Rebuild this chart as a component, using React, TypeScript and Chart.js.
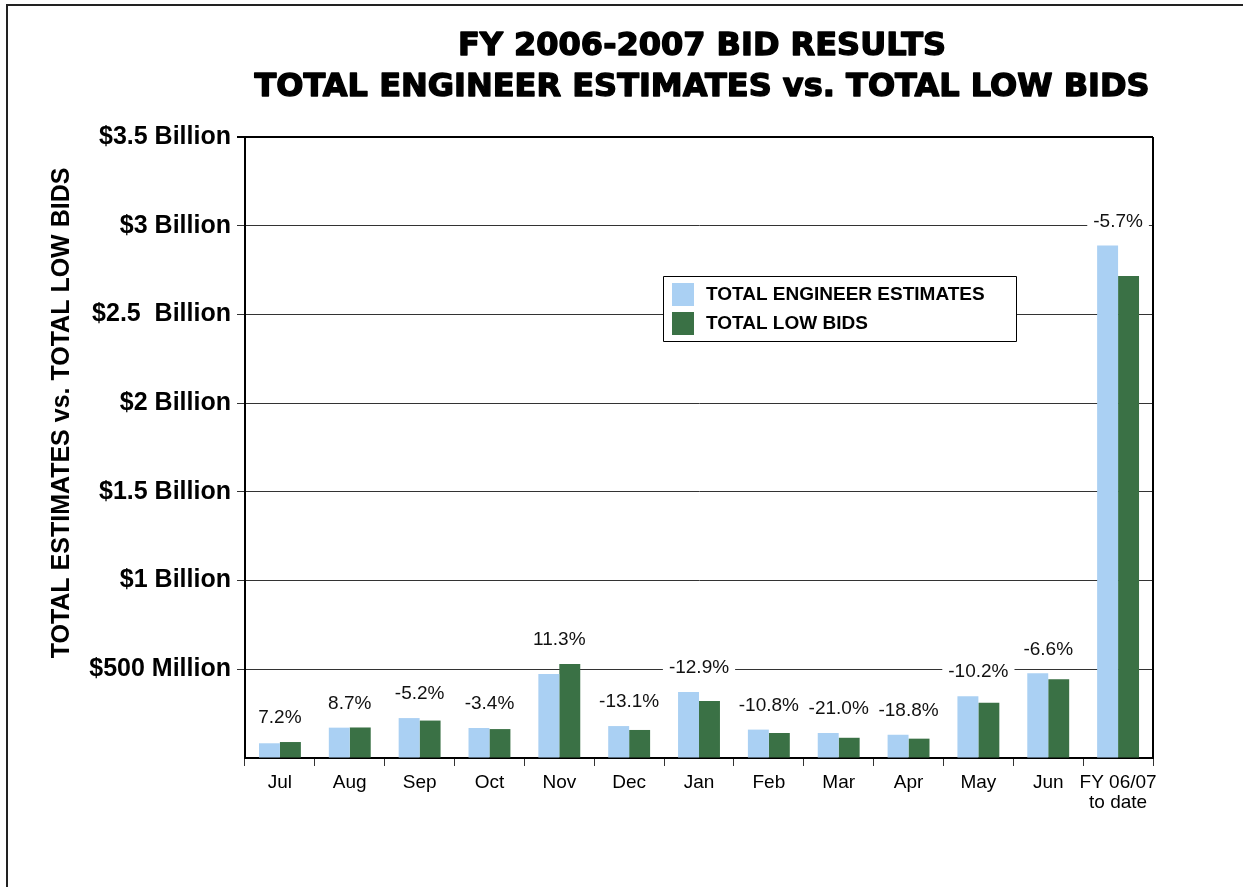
import React, { useEffect, useRef } from 'react';
import { Chart, registerables } from 'chart.js';

Chart.register(...registerables);

// ---- data ----
const categories: (string | string[])[] = ['Jul', 'Aug', 'Sep', 'Oct', 'Nov', 'Dec', 'Jan', 'Feb', 'Mar', 'Apr', 'May', 'Jun', ['FY 06/07', 'to date']];
// values in millions of dollars
const engineerEstimates = [83, 171, 225, 169, 473, 180, 372, 160, 141, 131, 348, 477, 2888];
const lowBids = [90, 172, 211, 163, 530, 158, 321, 141, 114, 109, 312, 444, 2716];
const percentDiff = [7.2, 8.7, -5.2, -3.4, 11.3, -13.1, -12.9, -10.8, -21.0, -18.8, -10.2, -6.6, -5.7];
const yTickLabels = ['', '$500 Million', '$1 Billion', '$1.5 Billion', '$2 Billion', '$2.5  Billion', '$3 Billion', '$3.5 Billion'];
const seriesNames = ['TOTAL ENGINEER ESTIMATES', 'TOTAL LOW BIDS'];
const titleLines = ['FY 2006-2007 BID RESULTS', 'TOTAL ENGINEER ESTIMATES vs. TOTAL LOW BIDS'];
const yAxisTitle = 'TOTAL ESTIMATES vs. TOTAL LOW BIDS';

const SANS = '"Liberation Sans", Arial, Helvetica, sans-serif';
const HEAVY = '"DejaVu Sans", "Liberation Sans", sans-serif';
const BLUE = '#aad0f3';
const GREEN = '#3a7145';

const framePlugin = {
  id: 'frame',
  beforeDraw(chart: any) {
    const { ctx, width, height } = chart;
    ctx.save();
    ctx.fillStyle = '#fff';
    ctx.fillRect(0, 0, width, height);
    ctx.strokeStyle = '#222';
    ctx.lineWidth = 2;
    ctx.beginPath();
    ctx.moveTo(7, height);
    ctx.lineTo(7, 5);
    ctx.lineTo(width, 5);
    ctx.stroke();
    ctx.restore();
  },
};

const decorPlugin = {
  id: 'decor',
  beforeDatasetsDraw(chart: any) {
    const { ctx, chartArea } = chart;
    ctx.save();
    ctx.strokeStyle = '#000';
    ctx.lineWidth = 2;
    ctx.beginPath();
    ctx.moveTo(chartArea.right, chartArea.top);
    ctx.lineTo(chartArea.right, chartArea.bottom);
    ctx.stroke();
    ctx.restore();
  },
  afterDatasetsDraw(chart: any) {
    const { ctx } = chart;
    const m0 = chart.getDatasetMeta(0);
    const m1 = chart.getDatasetMeta(1);
    ctx.save();
    ctx.font = `19px ${SANS}`;
    ctx.textAlign = 'center';
    ctx.textBaseline = 'middle';
    percentDiff.forEach((p, i) => {
      const b0 = m0.data[i];
      const b1 = m1.data[i];
      const x = (b0.x + b1.x) / 2;
      const top = Math.min(b0.y, b1.y);
      const y = top - 24;
      const text = p.toFixed(1) + '%';
      const w = ctx.measureText(text).width;
      ctx.fillStyle = '#fff';
      ctx.fillRect(x - w / 2 - 6, y - 10, w + 12, 20);
      ctx.fillStyle = '#111';
      ctx.fillText(text, x, y);
    });
    ctx.restore();
  },
  afterDraw(chart: any) {
    const { ctx, chartArea } = chart;
    ctx.save();
    // title
    ctx.fillStyle = '#000';
    ctx.strokeStyle = '#000';
    ctx.lineWidth = 1.4;
    ctx.lineJoin = 'round';
    ctx.textAlign = 'center';
    ctx.textBaseline = 'middle';
    ctx.font = `bold 32px ${HEAVY}`;
    const cx = (chartArea.left + chartArea.right) / 2 + 3;
    ctx.fillText(titleLines[0], cx, 47);
    ctx.strokeText(titleLines[0], cx, 47);
    ctx.fillText(titleLines[1], cx, 88);
    ctx.strokeText(titleLines[1], cx, 88);
    // y axis title
    ctx.save();
    ctx.translate(62, 413);
    ctx.rotate(-Math.PI / 2);
    ctx.font = `bold 25px ${SANS}`;
    ctx.fillText(yAxisTitle, 0, 0);
    ctx.restore();
    // legend
    const lx = 663, ly = 276, lw = 353, lh = 65;
    ctx.fillStyle = '#fff';
    ctx.fillRect(lx, ly, lw, lh);
    ctx.strokeStyle = '#000';
    ctx.lineWidth = 1;
    ctx.strokeRect(lx + 0.5, ly + 0.5, lw, lh);
    ctx.font = `bold 19px ${SANS}`;
    ctx.textAlign = 'left';
    chart.data.datasets.forEach((ds: any, i: number) => {
      const rowY = ly + 7 + i * 29;
      ctx.fillStyle = ds.backgroundColor;
      ctx.fillRect(lx + 9, rowY, 22, 23);
      ctx.fillStyle = '#000';
      ctx.fillText(ds.label, lx + 43, rowY + 12);
    });
    ctx.restore();
  },
};

export default function App() {
  const canvasRef = useRef<HTMLCanvasElement | null>(null);

  useEffect(() => {
    const canvas = canvasRef.current;
    if (!canvas) return;
    const chart = new Chart(canvas, {
      type: 'bar',
      data: {
        labels: categories as any,
        datasets: [
          {
            label: seriesNames[0],
            data: engineerEstimates,
            backgroundColor: BLUE,
            borderWidth: 0,
            categoryPercentage: 0.6,
            barPercentage: 1.0,
          },
          {
            label: seriesNames[1],
            data: lowBids,
            backgroundColor: GREEN,
            borderWidth: 0,
            categoryPercentage: 0.6,
            barPercentage: 1.0,
          },
        ],
      },
      options: {
        responsive: false,
        animation: false,
        devicePixelRatio: 1,
        layout: { padding: { left: 0, top: 137, right: 90, bottom: 0 } },
        plugins: {
          legend: { display: false },
          title: { display: false },
          tooltip: { enabled: false },
        },
        scales: {
          x: {
            offset: true,
            grid: {
              display: true,
              drawOnChartArea: false,
              drawTicks: true,
              tickLength: 8,
              offset: true,
              color: '#333',
              lineWidth: 1,
            },
            border: { display: true, color: '#000', width: 2 },
            ticks: {
              color: '#000',
              font: { size: 19, family: SANS, lineHeight: 1.05 },
              padding: 7,
              maxRotation: 0,
              autoSkip: false,
            },
            afterFit: (s: any) => {
              s.height = 129;
            },
          },
          y: {
            min: 0,
            max: 3500,
            ticks: {
              stepSize: 500,
              color: '#000',
              font: { size: 25, weight: 'bold', family: SANS },
              padding: 6,
              callback: (_v: any, index: number) => yTickLabels[index],
            },
            grid: {
              color: (c: any) => (c.tick && c.tick.value === 0 ? 'rgba(0,0,0,0)' : c.tick && c.tick.value === 3500 ? '#000' : '#333'),
              lineWidth: (c: any) => (c.tick && c.tick.value === 3500 ? 2 : 1),
              tickLength: 8,
              drawTicks: true,
            },
            border: { display: true, color: '#000', width: 2 },
            afterFit: (s: any) => {
              s.width = 245;
            },
          },
        },
      } as any,
      plugins: [framePlugin, decorPlugin],
    });
    return () => chart.destroy();
  }, []);

  return (
    <div style={{ position: 'absolute', left: 0, top: 0, width: 1243, height: 887 }}>
      <canvas ref={canvasRef} width={1243} height={887} style={{ display: 'block' }} />
    </div>
  );
}
